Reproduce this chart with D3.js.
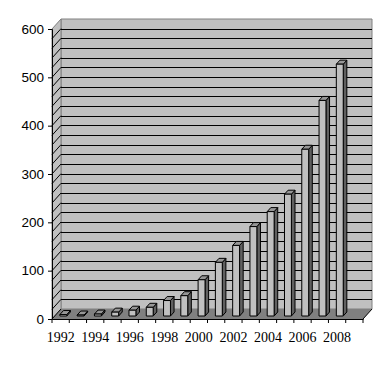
<!DOCTYPE html>
<html>
<head>
<meta charset="utf-8">
<script src="https://cdn.jsdelivr.net/npm/d3@7"></script>
<style>
  html, body { margin: 0; padding: 0; background: #fff; }
  svg { display: block; }
</style>
</head>
<body>
<svg id="chart" width="391" height="367"></svg>
<script>
// ---- data ----
const categories = ["1992","1993","1994","1995","1996","1997","1998","1999","2000",
                    "2001","2002","2003","2004","2005","2006","2007","2008","2009"];
const barYears   = ["1992","1993","1994","1995","1996","1997","1998","1999","2000",
                    "2001","2002","2003","2004","2005","2006","2007","2008"];
const values     = [3, 2, 4, 8, 12, 18, 32, 42, 75, 111, 146, 185, 216, 252, 345, 446, 521];
const xTickLabels = ["1992","1994","1996","1998","2000","2002","2004","2006","2008"];
const yTicks     = [0, 100, 200, 300, 400, 500, 600];
const gridValues = d3.range(20, 600, 20);

// ---- layout ----
const svg = d3.select("#chart");
const pLeft = 52, pRight = 363, pTop = 29, pBottom = 319;
const DX = 9, DY = -10;           // depth offset of the walls
const F0 = 0.3, F1 = 0.7;         // bar depth (front/back fraction)

const x = d3.scaleBand().domain(categories).range([pLeft, pRight]).padding(0);
const y = d3.scaleLinear().domain([0, 600]).range([pBottom, pTop]);
const bw = x.bandwidth() * 0.4;

const pts = a => a.map(p => p.join(",")).join(" ");

// back wall
svg.append("polygon")
  .attr("points", pts([[pLeft+DX, y(600)+DY],[pRight+DX, y(600)+DY],[pRight+DX, y(0)+DY],[pLeft+DX, y(0)+DY]]))
  .attr("fill", "#c0c0c0").attr("stroke", "#808080").attr("stroke-width", 1);
// side wall
svg.append("polygon")
  .attr("points", pts([[pLeft, y(600)],[pLeft+DX, y(600)+DY],[pLeft+DX, y(0)+DY],[pLeft, y(0)]]))
  .attr("fill", "#c0c0c0").attr("stroke", "#808080").attr("stroke-width", 1);

// gridlines
const grid = svg.append("g").attr("stroke", "#000").attr("stroke-width", 1);
gridValues.forEach(v => {
  const yy = Math.round(y(v)+DY) + 0.5;
  grid.append("line").attr("x1", pLeft+DX).attr("x2", pRight+DX).attr("y1", yy).attr("y2", yy);
  grid.append("line").attr("x1", pLeft).attr("y1", y(v)).attr("x2", pLeft+DX).attr("y2", y(v)+DY);
});

// floor
svg.append("polygon")
  .attr("points", pts([[pLeft, y(0)],[pRight, y(0)],[pRight+DX, y(0)+DY],[pLeft+DX, y(0)+DY]]))
  .attr("fill", "#808080").attr("stroke", "none");
svg.append("line")
  .attr("x1", pRight).attr("y1", y(0)).attr("x2", pRight+DX).attr("y2", y(0)+DY)
  .attr("stroke", "#000");
svg.append("line")
  .attr("x1", pLeft).attr("y1", y(0)).attr("x2", pLeft+DX).attr("y2", y(0)+DY)
  .attr("stroke", "#000");

// bars
const bars = svg.append("g");
barYears.forEach((c, i) => {
  const v = values[i];
  const x0 = x(c) + (x.bandwidth() - bw) / 2 + F0*DX;
  const x1 = x0 + bw;
  const yt = y(v) + F0*DY, yb = y(0) + F0*DY;
  const ddx = (F1-F0)*DX, ddy = (F1-F0)*DY;
  const g = bars.append("g").attr("stroke", "#000").attr("stroke-width", 1).attr("stroke-linejoin", "round");
  g.append("polygon").attr("points", pts([[x1, yt],[x1+ddx, yt+ddy],[x1+ddx, yb+ddy],[x1, yb]]))
    .attr("fill", "#606060");
  g.append("polygon").attr("points", pts([[x0, yt],[x1, yt],[x1+ddx, yt+ddy],[x0+ddx, yt+ddy]]))
    .attr("fill", "#969696");
  g.append("rect").attr("x", x0).attr("y", yt).attr("width", bw).attr("height", Math.max(0, yb-yt))
    .attr("fill", "#c0c0c0");
});

// y axis
const yAxis = svg.append("g").attr("transform", `translate(${pLeft},0)`)
  .call(d3.axisLeft(y).tickValues(yTicks).tickSize(4).tickPadding(4).tickFormat(d3.format("d")));
yAxis.selectAll("text").attr("font-family", "Liberation Sans, Arial, sans-serif")
  .attr("font-size", 13.5).attr("fill", "#000");
yAxis.selectAll("line, path").attr("stroke", "#000");

// x axis
const xAxis = svg.append("g").attr("transform", `translate(0,${pBottom})`)
  .call(d3.axisBottom(x).tickValues(xTickLabels).tickSize(0).tickPadding(13));
xAxis.select("path").attr("stroke", "#000");
xAxis.selectAll("text").attr("font-family", "Liberation Serif, 'Times New Roman', serif")
  .attr("font-size", 14).attr("fill", "#000");
const tickPos = categories.map(c => x(c)).concat([pRight]);
xAxis.selectAll("line.bt").data(tickPos).join("line").attr("class", "bt")
  .attr("x1", d => d).attr("x2", d => d).attr("y1", 0).attr("y2", 4).attr("stroke", "#000");
</script>
</body>
</html>
